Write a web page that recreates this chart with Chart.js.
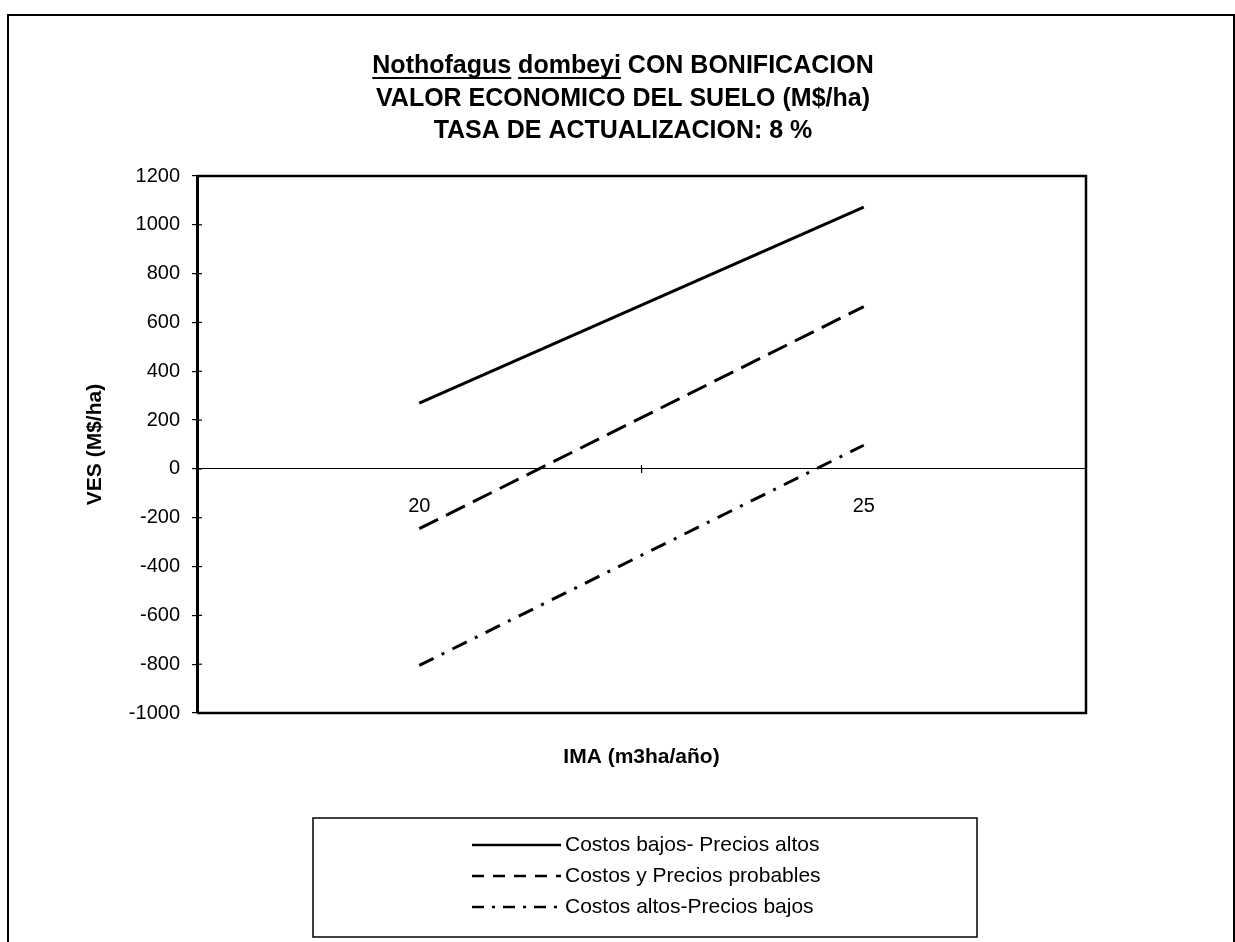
<!DOCTYPE html>
<html>
<head>
<meta charset="utf-8">
<script src="https://cdn.jsdelivr.net/npm/chart.js@4.4.0/dist/chart.umd.min.js"></script>
<style>
  html, body { margin: 0; padding: 0; background: #fff; }
  #wrap { width: 1235px; height: 942px; }
</style>
</head>
<body>
<div id="wrap"><canvas id="vesChart" width="1235" height="942"></canvas></div>
<script>
// data
const categories = ['20', '25'];
const seriesNames = [
  'Costos bajos- Precios altos',
  'Costos y Precios probables',
  'Costos altos-Precios bajos',
];
const costosBajosPreciosAltos = [270, 1072];
const costosPreciosProbables = [-245, 665];
const costosAltosPreciosBajos = [-805, 97];
const yMin = -1000;
const yMax = 1200;
const yStep = 200;

const titleLines = [
  [
    { text: 'Nothofagus', underline: true },
    { text: ' ' },
    { text: 'dombeyi', underline: true },
    { text: ' CON BONIFICACION' },
  ],
  [{ text: 'VALOR ECONOMICO DEL SUELO (M$/ha)' }],
  [{ text: 'TASA DE ACTUALIZACION: 8 %' }],
];
const xTitle = 'IMA (m3ha/año)';
const yTitle = 'VES (M$/ha)';

const FONT = '"Liberation Sans", Arial, sans-serif';
Chart.defaults.color = '#000';
Chart.defaults.font.family = FONT;

// frame, title, x title, legend, inner tick marks
const excelLook = {
  id: 'excelLook',
  beforeDraw(chart) {
    const ctx = chart.ctx;
    ctx.save();
    ctx.fillStyle = '#fff';
    ctx.fillRect(0, 0, chart.width, chart.height);
    ctx.strokeStyle = '#000';
    ctx.lineWidth = 2;
    ctx.strokeRect(8, 15, 1226, 960);
    ctx.restore();
  },
  afterDraw(chart) {
    const ctx = chart.ctx;
    const area = chart.chartArea;
    const y = chart.scales.y;
    const x = chart.scales.x;
    ctx.save();
    ctx.strokeStyle = '#000';

    // plot frame (top, right, bottom)
    ctx.lineWidth = 2.5;
    ctx.beginPath();
    ctx.moveTo(area.left, area.top);
    ctx.lineTo(area.right, area.top);
    ctx.lineTo(area.right, area.bottom);
    ctx.lineTo(area.left, area.bottom);
    ctx.stroke();

    // tick marks crossing into the plot
    ctx.lineWidth = 1.2;
    y.ticks.forEach((t) => {
      const py = y.getPixelForValue(t.value);
      ctx.beginPath();
      ctx.moveTo(area.left, py);
      ctx.lineTo(area.left + 5, py);
      ctx.stroke();
    });
    const midX = (x.getPixelForValue(0) + x.getPixelForValue(1)) / 2;
    const zeroY = y.getPixelForValue(0);
    ctx.beginPath();
    ctx.moveTo(midX, zeroY - 4);
    ctx.lineTo(midX, zeroY);
    ctx.stroke();

    // title
    ctx.fillStyle = '#000';
    ctx.font = 'bold 25px ' + FONT;
    ctx.textBaseline = 'middle';
    ctx.textAlign = 'left';
    const cx = 623;
    const lineY = [66, 99, 131];
    titleLines.forEach((parts, i) => {
      const total = parts.reduce((s, p) => s + ctx.measureText(p.text).width, 0);
      let px = cx - total / 2;
      parts.forEach((p) => {
        const w = ctx.measureText(p.text).width;
        ctx.fillText(p.text, px, lineY[i]);
        if (p.underline) {
          ctx.lineWidth = 2;
          ctx.beginPath();
          ctx.moveTo(px, lineY[i] + 12);
          ctx.lineTo(px + w, lineY[i] + 12);
          ctx.stroke();
        }
        px += w;
      });
    });

    // x axis title
    ctx.font = 'bold 21px ' + FONT;
    ctx.textAlign = 'center';
    ctx.fillText(xTitle, (area.left + area.right) / 2, 757);

    // legend box
    ctx.lineWidth = 1.5;
    ctx.strokeRect(313, 818, 664, 119);
    ctx.font = '21px ' + FONT;
    ctx.textAlign = 'left';
    chart.data.datasets.forEach((ds, i) => {
      const ly = 845 + i * 31;
      ctx.lineWidth = 2.5;
      ctx.setLineDash(ds.legendDash || []);
      ctx.beginPath();
      ctx.moveTo(472, ly);
      ctx.lineTo(561, ly);
      ctx.stroke();
      ctx.setLineDash([]);
      ctx.fillText(ds.label, 565, ly);
    });
    ctx.restore();
  },
};

const ctx = document.getElementById('vesChart');
new Chart(ctx, {
  type: 'line',
  data: {
    labels: categories,
    datasets: [
      {
        label: seriesNames[0],
        data: costosBajosPreciosAltos,
        borderColor: '#000',
        borderWidth: 3,
        borderDash: [],
        legendDash: [],
        pointRadius: 0,
        tension: 0,
      },
      {
        label: seriesNames[1],
        data: costosPreciosProbables,
        borderColor: '#000',
        borderWidth: 3,
        borderDash: [21, 9],
        legendDash: [12, 9],
        pointRadius: 0,
        tension: 0,
      },
      {
        label: seriesNames[2],
        data: costosAltosPreciosBajos,
        borderColor: '#000',
        borderWidth: 3,
        borderDash: [16, 9, 3, 9],
        legendDash: [12, 8, 3, 8],
        pointRadius: 0,
        tension: 0,
      },
    ],
  },
  options: {
    responsive: false,
    animation: false,
    layout: {
      padding: { left: 70, top: 176, right: 149, bottom: 229 },
    },
    plugins: {
      legend: { display: false },
      title: { display: false },
      tooltip: { enabled: false },
    },
    scales: {
      x: {
        type: 'category',
        offset: true,
        position: { y: 0 },
        grid: {
          offset: true,
          drawOnChartArea: false,
          drawTicks: true,
          tickLength: 4,
          color: '#000',
          lineWidth: 1.2,
        },
        border: { display: true, color: '#000', width: 1 },
        ticks: {
          padding: 22,
          font: { size: 20 },
          color: '#000',
          maxRotation: 0,
        },
      },
      y: {
        min: yMin,
        max: yMax,
        afterFit(scale) {
          scale.width = 127;
        },
        ticks: {
          stepSize: yStep,
          padding: 12,
          font: { size: 20 },
          color: '#000',
          callback: (v) => String(v),
        },
        grid: {
          drawOnChartArea: false,
          drawTicks: true,
          tickLength: 5,
          color: '#000',
          lineWidth: 1.2,
        },
        border: { display: true, color: '#000', width: 3 },
        title: {
          display: true,
          text: yTitle,
          font: { size: 21, weight: 'bold' },
          color: '#000',
          padding: { top: 13, bottom: 0 },
        },
      },
    },
  },
  plugins: [excelLook],
});
</script>
</body>
</html>
